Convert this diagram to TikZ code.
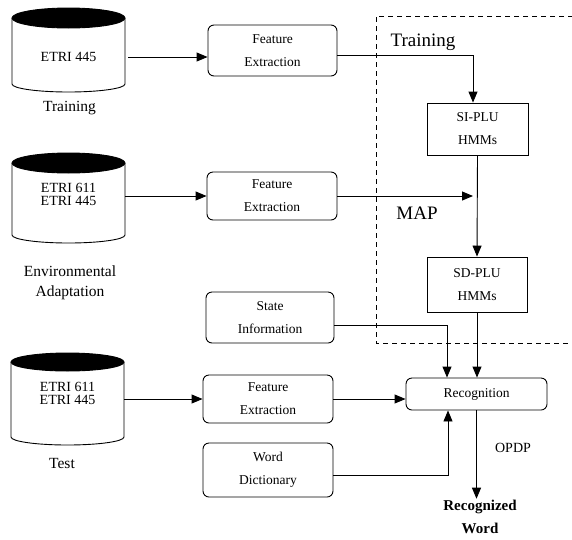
\documentclass[tikz,border=0pt]{standalone}
\usepackage{fontspec}
\setmainfont{Liberation Serif}
\usetikzlibrary{arrows.meta}
% database drum: centre x, x radius, top-ellipse y, bottom-arc y, top-ellipse y radius, bottom y radius
\newcommand\drum[6]{%
  \draw (#1,#3) ++(-#2,0) -- ++(0,#4-#3)
    arc[start angle=180, end angle=360, x radius=#2pt, y radius=#6pt] -- ++(0,#3-#4);
  \draw[fill=black] (#1,#3) ellipse[x radius=#2pt, y radius=#5pt];
}
\begin{document}
\begin{tikzpicture}[x=1pt, y=-1pt, line width=0.9pt,
  arr/.style={-{Triangle[length=11pt,width=9pt]}},
  rbox/.style={draw, rounded corners=6pt, inner sep=0pt, align=center,
               font=\fontsize{13.5}{23}\selectfont},
  sbox/.style={draw, inner sep=0pt, align=center,
               font=\fontsize{13.5}{23}\selectfont},
  dbtext/.style={inner sep=0pt, align=center, minimum width=113pt,
                 font=\fontsize{14}{13}\selectfont},
  caption/.style={inner sep=0pt, align=center, font=\fontsize{15.5}{20}\selectfont},
  big/.style={inner sep=0pt, font=\fontsize{19}{20}\selectfont},
]
\useasboundingbox (0,0) rectangle (572,539);

% databases
\drum{68.5}{56.5}{18}{84}{10}{8}
\drum{68.5}{56.5}{163}{235}{10}{8}
\drum{67.5}{56.5}{362}{437}{9}{8}
\node[dbtext] (db1) at (68.5,57) {ETRI 445};
\node[dbtext] (db2) at (68.5,194) {ETRI 611\\ETRI 445};
\node[dbtext] (db3) at (67.5,393) {ETRI 611\\ETRI 445};
\node[caption] (c1) at (69.5,108) {Training};
\node[caption] (c2) at (70,283) {Environmental\\Adaptation};
\node[caption] (c3) at (62,463) {Test};

% processing blocks
\node[rbox, minimum width=129pt, minimum height=51pt] (fe1) at (272.5,50.5) {Feature\\Extraction};
\node[rbox, minimum width=130pt, minimum height=48pt] (fe2) at (272,196) {Feature\\Extraction};
\node[rbox, minimum width=128pt, minimum height=51pt] (st) at (270,317.5) {State\\Information};
\node[rbox, minimum width=130pt, minimum height=48pt] (fe3) at (268,399) {Feature\\Extraction};
\node[rbox, minimum width=130pt, minimum height=54pt] (wd) at (268,470) {Word\\Dictionary};
\node[sbox, minimum width=101pt, minimum height=52pt] (si) at (477.5,129) {SI-PLU\\HMMs};
\node[sbox, minimum width=100pt, minimum height=55pt] (sd) at (477,284.5) {SD-PLU\\HMMs};
\node[rbox, minimum width=141pt, minimum height=32pt] (rec) at (476.5,394) {Recognition};
\node[inner sep=0pt, align=center, font=\bfseries\fontsize{15}{23}\selectfont] (out) at (480,517) {Recognized\\Word};

% labels
\node[big] (lt) at (423,42) {Training};
\node[big] (lm) at (417,213) {MAP};
\node[inner sep=0pt, font=\fontsize{14}{14}\selectfont] (opdp) at (513,448) {OPDP};

% training / adaptation region
\draw[dash pattern=on 5pt off 4pt, line width=0.8pt] (573,16) -- (376,16) -- (376,343) -- (573,343);

% connectors
\draw[arr] ([xshift=3pt]db1.east) -- (db1.east -| fe1.west);
\draw[arr] (db2.east |- fe2.west) -- (fe2.west);
\draw[arr] (db3.east |- fe3.west) -- (fe3.west);
\draw[arr] ([yshift=-4.5pt]fe1.east) -| ([xshift=-4.5pt]si.north);
\path (fe2.east -| si.south) coordinate (mapend);
\draw[arr] (fe2.east) -- ([xshift=-4.5pt]mapend);
\draw[arr] (si.south) -- (sd.north);
\draw[arr] ([yshift=-7.5pt]st.east) -| ([xshift=-29.5pt]rec.north);
\draw[arr] (sd.south) -- (sd.south |- rec.north);
\draw[arr] (fe3.east) -- (fe3.east -| rec.west);
\draw[arr] ([yshift=-5pt]wd.east) -| ([xshift=-28.5pt]rec.south);
\draw[arr] (rec.south) -- ([yshift=1pt]rec.south |- out.north);
\end{tikzpicture}
\end{document}
